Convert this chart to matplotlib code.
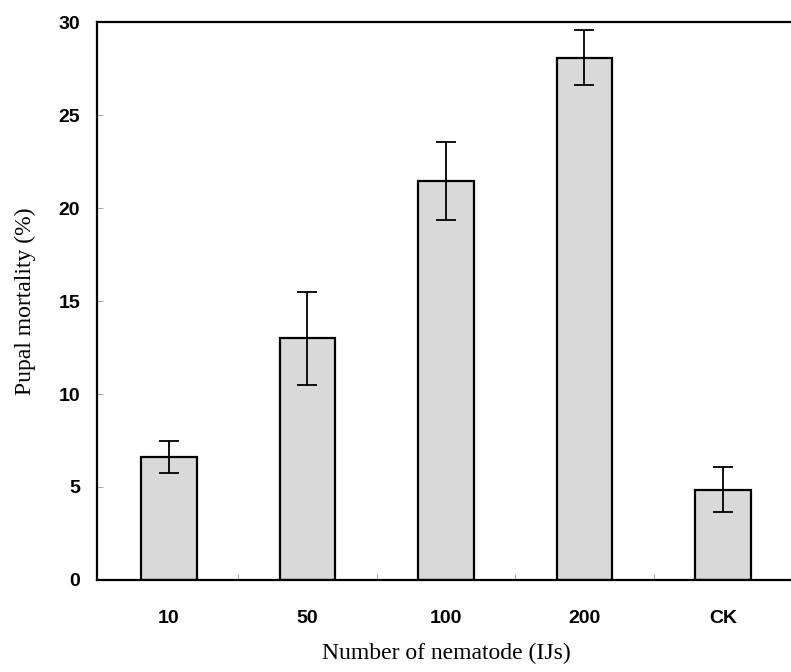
import matplotlib
matplotlib.use("Agg")
import matplotlib.pyplot as plt
import numpy as np

# data
doses = ['10', '50', '100', '200', 'CK']
mortality = [6.6, 13.0, 21.45, 28.1, 4.85]
err = [0.85, 2.5, 2.1, 1.5, 1.2]

fig = plt.figure(figsize=(7.91, 6.72), dpi=100)
ax = fig.add_axes([0.1226, 0.137, 1.005 - 0.1226, 0.967 - 0.137])

x = np.arange(len(doses))
ax.bar(x, mortality, width=0.4, color='#d9d9d9', edgecolor='black', linewidth=1.6,
       yerr=err, capsize=7, error_kw={'elinewidth': 1.3, 'capthick': 1.3, 'ecolor': 'black'})

ax.set_xlim(-0.52, 4.52)
ax.set_ylim(0, 30)
ax.set_yticks([0, 5, 10, 15, 20, 25, 30])
ax.set_xticks(x)
ax.set_xticklabels(doses)
ax.set_xticks(x[:-1] + 0.5, minor=True)

ax.tick_params(axis='y', direction='in', length=4, width=0.6, color='#999999', pad=12)
ax.tick_params(axis='x', which='major', length=0, pad=22)
ax.tick_params(axis='x', which='minor', direction='in', length=4, width=0.6, color='#999999')

for lab in ax.get_xticklabels() + ax.get_yticklabels():
    lab.set_fontfamily('Liberation Sans')
    lab.set_fontweight('bold')
    lab.set_fontsize(14)

for side in ['left', 'bottom', 'top']:
    ax.spines[side].set_linewidth(1.6)
ax.spines['right'].set_visible(False)

ax.set_xlabel('Number of nematode (IJs)', fontfamily='Liberation Serif', fontsize=17, labelpad=11)
ax.set_ylabel('Pupal mortality (%)', fontfamily='Liberation Serif', fontsize=17, labelpad=16)

plt.savefig('out.png', dpi=100)
plt.close()
